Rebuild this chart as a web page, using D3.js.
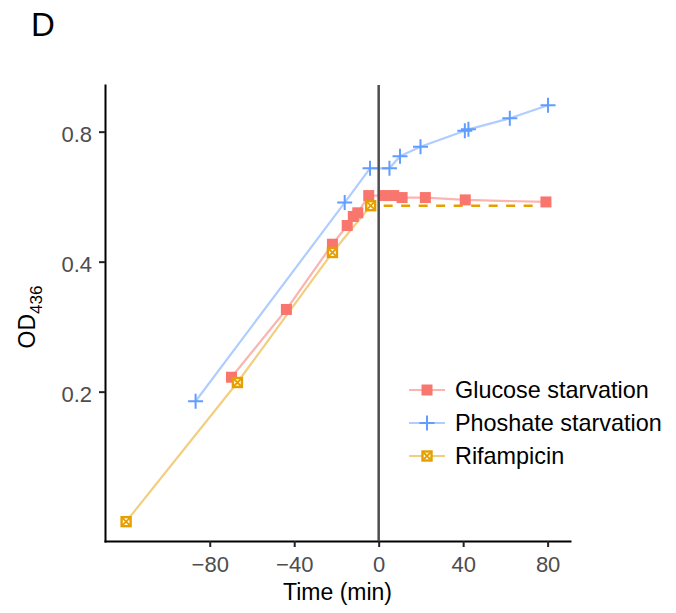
<!DOCTYPE html>
<html>
<head>
<meta charset="utf-8">
<script src="https://cdn.jsdelivr.net/npm/d3@7"></script>
<style>
  html, body { margin: 0; padding: 0; background: #fff; }
  svg { display: block; font-family: "Liberation Sans", Arial, Helvetica, sans-serif; }
</style>
</head>
<body>
<svg id="chart" width="676" height="613"></svg>
<script>
// Growth curves: OD436 (log scale) against time relative to treatment (min)
const seriesNames = ["Glucose starvation", "Phoshate starvation", "Rifampicin"];

const glucoseTime = [-69.7, -43.7, -21.9, -14.9, -12.0, -9.9, -4.7, 2.2, 7.1, 11.1, 22.1, 41.0, 79.2];
const glucoseOD   = [0.216, 0.310, 0.439, 0.485, 0.509, 0.519, 0.569, 0.569, 0.569, 0.563, 0.563, 0.556, 0.550];

const phosphateTime = [-86.7, -16.1, -4.1, 5.1, 10.1, 19.8, 40.8, 42.5, 62.1, 80.2];
const phosphateOD   = [0.190, 0.548, 0.658, 0.658, 0.702, 0.738, 0.804, 0.810, 0.859, 0.921];

const rifampicinTime = [-119.6, -66.9, -21.9, -3.8];
const rifampicinOD   = [0.100, 0.210, 0.420, 0.539];

// OD held constant after rifampicin addition (dashed)
const rifampicinPlateauTime = [-3.8, 80];
const rifampicinPlateauOD   = [0.539, 0.539];

const xTicks = [-80, -40, 0, 40, 80];
const yTicks = [0.2, 0.4, 0.8];
const yTickLabels = ["0.2", "0.4", "0.8"];

const markerColors = ["#F8766D", "#619CFF", "#E69F00"];
const lineColors   = ["#FBB5B1", "#B0CDFF", "#F2CF80"];

const svg = d3.select("#chart");

const x = d3.scaleLinear().domain([-129.6, 90.6]).range([105, 570]);
const y = d3.scaleLog().domain([0.0902, 1.026]).range([541, 85]);

const zip = (ts, vs) => ts.map((t, i) => ({ t, v: vs[i] }));
const series = [
  zip(glucoseTime, glucoseOD),
  zip(phosphateTime, phosphateOD),
  zip(rifampicinTime, rifampicinOD)
];

const line = d3.line().x(d => x(d.t)).y(d => y(d.v));

// panel letter
svg.append("text").attr("x", 31).attr("y", 36)
  .attr("font-size", 33).attr("fill", "#000").text("D");

// axes
const xAxis = svg.append("g").attr("transform", "translate(0,541)")
  .call(d3.axisBottom(x).tickValues(xTicks).tickSize(6).tickSizeOuter(0).tickPadding(9));
const yAxis = svg.append("g").attr("transform", "translate(105,0)")
  .call(d3.axisLeft(y).tickValues(yTicks).tickSize(6).tickSizeOuter(0).tickPadding(7)
    .tickFormat((d, i) => yTickLabels[i]));

[xAxis, yAxis].forEach(g => {
  g.select(".domain").attr("stroke", "#000").attr("stroke-width", 2).attr("stroke-linecap", "square");
  g.selectAll(".tick line").attr("stroke", "#222").attr("stroke-width", 2);
  g.selectAll(".tick text").attr("fill", "#4D4D4D").attr("font-size", 22)
    .attr("font-family", "'Liberation Sans', Arial, sans-serif");
});
yAxis.selectAll(".tick text").attr("dy", "0.45em");

// series lines
series.forEach((s, i) => {
  svg.append("path").datum(s).attr("d", line)
    .attr("fill", "none").attr("stroke", lineColors[i]).attr("stroke-width", 2.2);
});

svg.append("path").datum(zip(rifampicinPlateauTime, rifampicinPlateauOD)).attr("d", line)
  .attr("fill", "none").attr("stroke", markerColors[2]).attr("stroke-width", 2.6)
  .attr("stroke-dasharray", "9 8.5").attr("stroke-dashoffset", 4.5);

// markers
function drawMarker(g, kind, cx, cy, color) {
  if (kind === 0) {
    g.append("rect").attr("x", cx - 5.5).attr("y", cy - 5.5).attr("width", 11).attr("height", 11)
      .attr("fill", color);
  } else if (kind === 1) {
    g.append("path").attr("d", `M${cx - 7.5},${cy}H${cx + 7.5}M${cx},${cy - 7.5}V${cy + 7.5}`)
      .attr("stroke", color).attr("stroke-width", 2).attr("fill", "none");
  } else {
    g.append("rect").attr("x", cx - 4.5).attr("y", cy - 4.5).attr("width", 9).attr("height", 9)
      .attr("fill", "#fff").attr("stroke", color).attr("stroke-width", 2.4);
    g.append("path").attr("d", `M${cx - 4.5},${cy - 4.5}L${cx + 4.5},${cy + 4.5}M${cx + 4.5},${cy - 4.5}L${cx - 4.5},${cy + 4.5}`)
      .attr("stroke", color).attr("stroke-width", 1.8);
  }
}

const markers = svg.append("g");
series.forEach((s, i) => {
  s.forEach(d => drawMarker(markers, i, x(d.t), y(d.v), markerColors[i]));
});

// treatment time reference line
svg.append("line").attr("x1", x(0)).attr("x2", x(0)).attr("y1", 85).attr("y2", 541)
  .attr("stroke", "#4D4D4D").attr("stroke-width", 2.5);

// axis titles
svg.append("text").attr("x", (105 + 570) / 2).attr("y", 600).attr("text-anchor", "middle")
  .attr("font-size", 23).attr("fill", "#000").text("Time (min)");

const yTitle = svg.append("text").attr("transform", "translate(35,317) rotate(-90)")
  .attr("text-anchor", "middle").attr("font-size", 23).attr("fill", "#000");
yTitle.append("tspan").text("OD");
yTitle.append("tspan").attr("font-size", 17).attr("dy", 7).text("436");

// legend
const legend = svg.append("g");
const legendY = [390, 423, 456];
seriesNames.forEach((name, i) => {
  const ly = legendY[i];
  legend.append("line").attr("x1", 409).attr("x2", 445).attr("y1", ly).attr("y2", ly)
    .attr("stroke", lineColors[i]).attr("stroke-width", 2.2);
  drawMarker(legend, i, 427, ly, markerColors[i]);
  legend.append("text").attr("x", 455).attr("y", ly + 8).attr("font-size", 23.4)
    .attr("fill", "#000").text(name);
});
</script>
</body>
</html>
